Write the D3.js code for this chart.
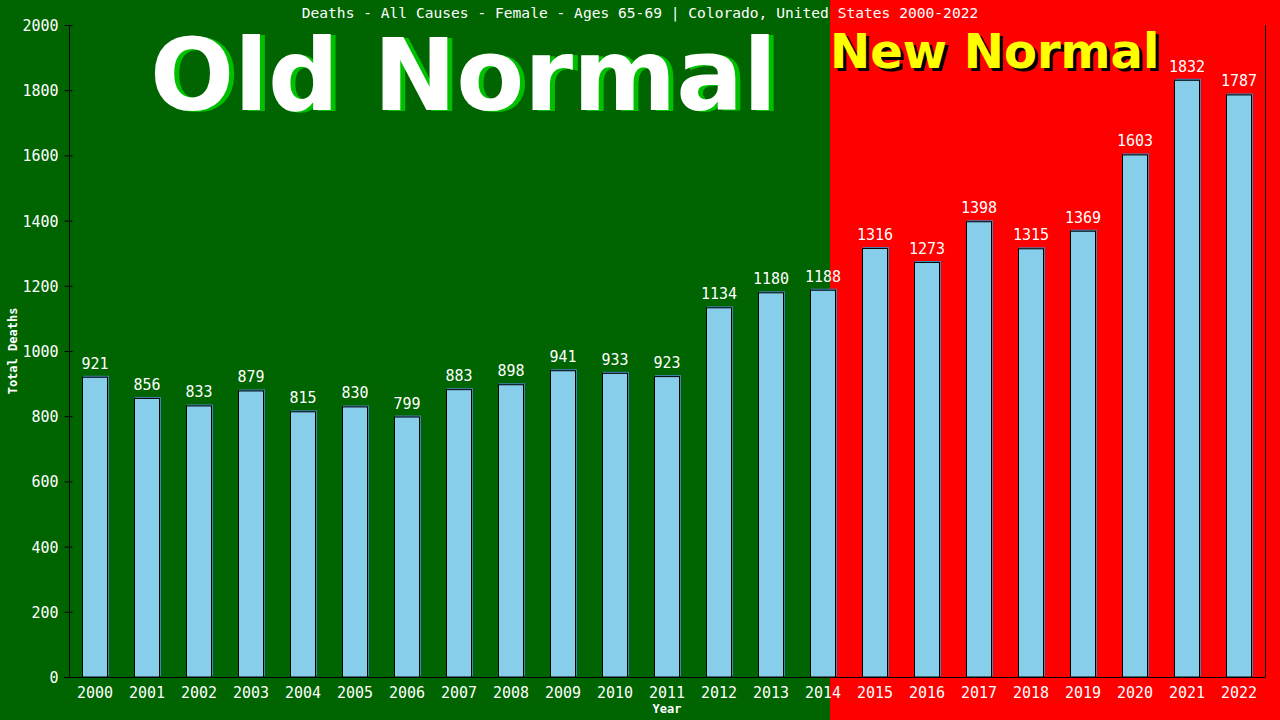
<!DOCTYPE html>
<html>
<head>
<meta charset="utf-8">
<script src="https://cdn.jsdelivr.net/npm/d3@7"></script>
<style>
  html, body { margin: 0; padding: 0; background: #006400; }
  svg { display: block; }
  text { font-family: "DejaVu Sans Mono", monospace; fill: #fff; }
</style>
</head>
<body>
<svg id="chart" width="1280" height="720"></svg>
<script>
// data
var years = ["2000","2001","2002","2003","2004","2005","2006","2007","2008","2009","2010","2011",
             "2012","2013","2014","2015","2016","2017","2018","2019","2020","2021","2022"];
var deaths = [921, 856, 833, 879, 815, 830, 799, 883, 898, 941, 933, 923,
              1134, 1180, 1188, 1316, 1273, 1398, 1315, 1369, 1603, 1832, 1787];
var yTicks = [0, 200, 400, 600, 800, 1000, 1200, 1400, 1600, 1800, 2000];

var chartTitle = "Deaths - All Causes - Female - Ages 65-69 | Colorado, United States 2000-2022";

var W = 1280, H = 720;
var plotL = 69, plotR = 1265, plotT = 25, plotB = 677;
var splitX = 830; // where the red "new normal" panel starts

var svg = d3.select("#chart");

// backgrounds
svg.append("rect").attr("x", 0).attr("y", 0).attr("width", splitX).attr("height", H).attr("fill", "#006400");
svg.append("rect").attr("x", splitX).attr("y", 0).attr("width", W - splitX).attr("height", H).attr("fill", "#ff0000");

// big banner texts, shadow first
function banner(txt, x, y, size, col, shadowCol, dx, dy) {
	svg.append("text").text(txt)
		.attr("x", x + dx).attr("y", y + dy)
		.style("font-family", "'DejaVu Sans', Verdana, sans-serif")
		.style("font-weight", "bold").style("font-size", size + "px")
		.style("fill", shadowCol);
	svg.append("text").text(txt)
		.attr("x", x).attr("y", y)
		.style("font-family", "'DejaVu Sans', Verdana, sans-serif")
		.style("font-weight", "bold").style("font-size", size + "px")
		.style("fill", col);
}
banner("Old Normal", 150, 110, 99, "#ffffff", "#00c000", 5, 1);
banner("New Normal", 830, 68, 48, "#ffff00", "#000000", 3, 3);

// scales
var x = d3.scaleBand().domain(years).range([plotL, plotR]).paddingInner(0.5).paddingOuter(0.25);
var y = d3.scaleLinear().domain([0, 2000]).range([plotB, plotT]);

// bars: a steelblue shadow behind a sky blue bar with black edge
var bars = svg.append("g");
bars.selectAll("rect.shadow").data(deaths).enter().append("rect")
	.attr("class", "shadow")
	.attr("x", function(d, i) { return x(years[i]) + 1; })
	.attr("y", function(d) { return y(d) - 1; })
	.attr("width", x.bandwidth())
	.attr("height", function(d) { return plotB - y(d); })
	.attr("fill", "#4682b4");
bars.selectAll("rect.bar").data(deaths).enter().append("rect")
	.attr("class", "bar")
	.attr("x", function(d, i) { return x(years[i]) + 0.5; })
	.attr("y", function(d) { return y(d) + 0.5; })
	.attr("width", x.bandwidth() - 1)
	.attr("height", function(d) { return plotB - y(d) - 0.5; })
	.attr("fill", "#87ceeb")
	.attr("stroke", "#000")
	.attr("stroke-width", 1);

// value labels
svg.append("g").selectAll("text").data(deaths).enter().append("text")
	.attr("x", function(d, i) { return x(years[i]) + x.bandwidth() / 2; })
	.attr("y", function(d) { return y(d) - 8; })
	.attr("text-anchor", "middle")
	.style("font-size", "15px")
	.text(function(d) { return d; });

// y axis
var yAxis = d3.axisLeft(y).tickValues(yTicks).tickFormat(d3.format("d")).tickSize(5).tickPadding(6);
var gy = svg.append("g").attr("transform", "translate(" + (plotL + 0.5) + ",0)").call(yAxis);
gy.select(".domain").attr("stroke", "#000").attr("d", "M0," + plotT + "V" + plotB);
gy.selectAll(".tick line").attr("stroke", "#000").attr("x1", 3).attr("x2", -5);
gy.selectAll(".tick text").style("font-size", "15px").style("font-family", "'DejaVu Sans Mono', monospace").attr("fill", "#fff").attr("dy", "0.36em");

// x axis
var xAxis = d3.axisBottom(x).tickSize(0).tickPadding(12);
var gx = svg.append("g").attr("transform", "translate(0," + (plotB + 0.5) + ")").call(xAxis);
gx.select(".domain").attr("stroke", "#000").attr("d", "M" + (plotL - 5) + ",0H" + (plotR + 0.5));
gx.selectAll(".tick text").style("font-size", "15px").style("font-family", "'DejaVu Sans Mono', monospace").attr("fill", "#fff").attr("dy", "0.55em");

// right frame line
svg.append("line").attr("x1", plotR + 0.5).attr("x2", plotR + 0.5).attr("y1", plotT).attr("y2", plotB)
	.attr("stroke", "#000");

// titles
svg.append("text").attr("x", 640).attr("y", 18).attr("text-anchor", "middle")
	.style("font-size", "14.6px").text(chartTitle);
svg.append("text").attr("x", (plotL + plotR) / 2).attr("y", 713).attr("text-anchor", "middle")
	.style("font-size", "12px").style("font-weight", "bold").text("Year");
svg.append("text").attr("transform", "translate(17,351) rotate(-90)").attr("text-anchor", "middle")
	.style("font-size", "12px").style("font-weight", "bold").text("Total Deaths");
</script>
</body>
</html>
